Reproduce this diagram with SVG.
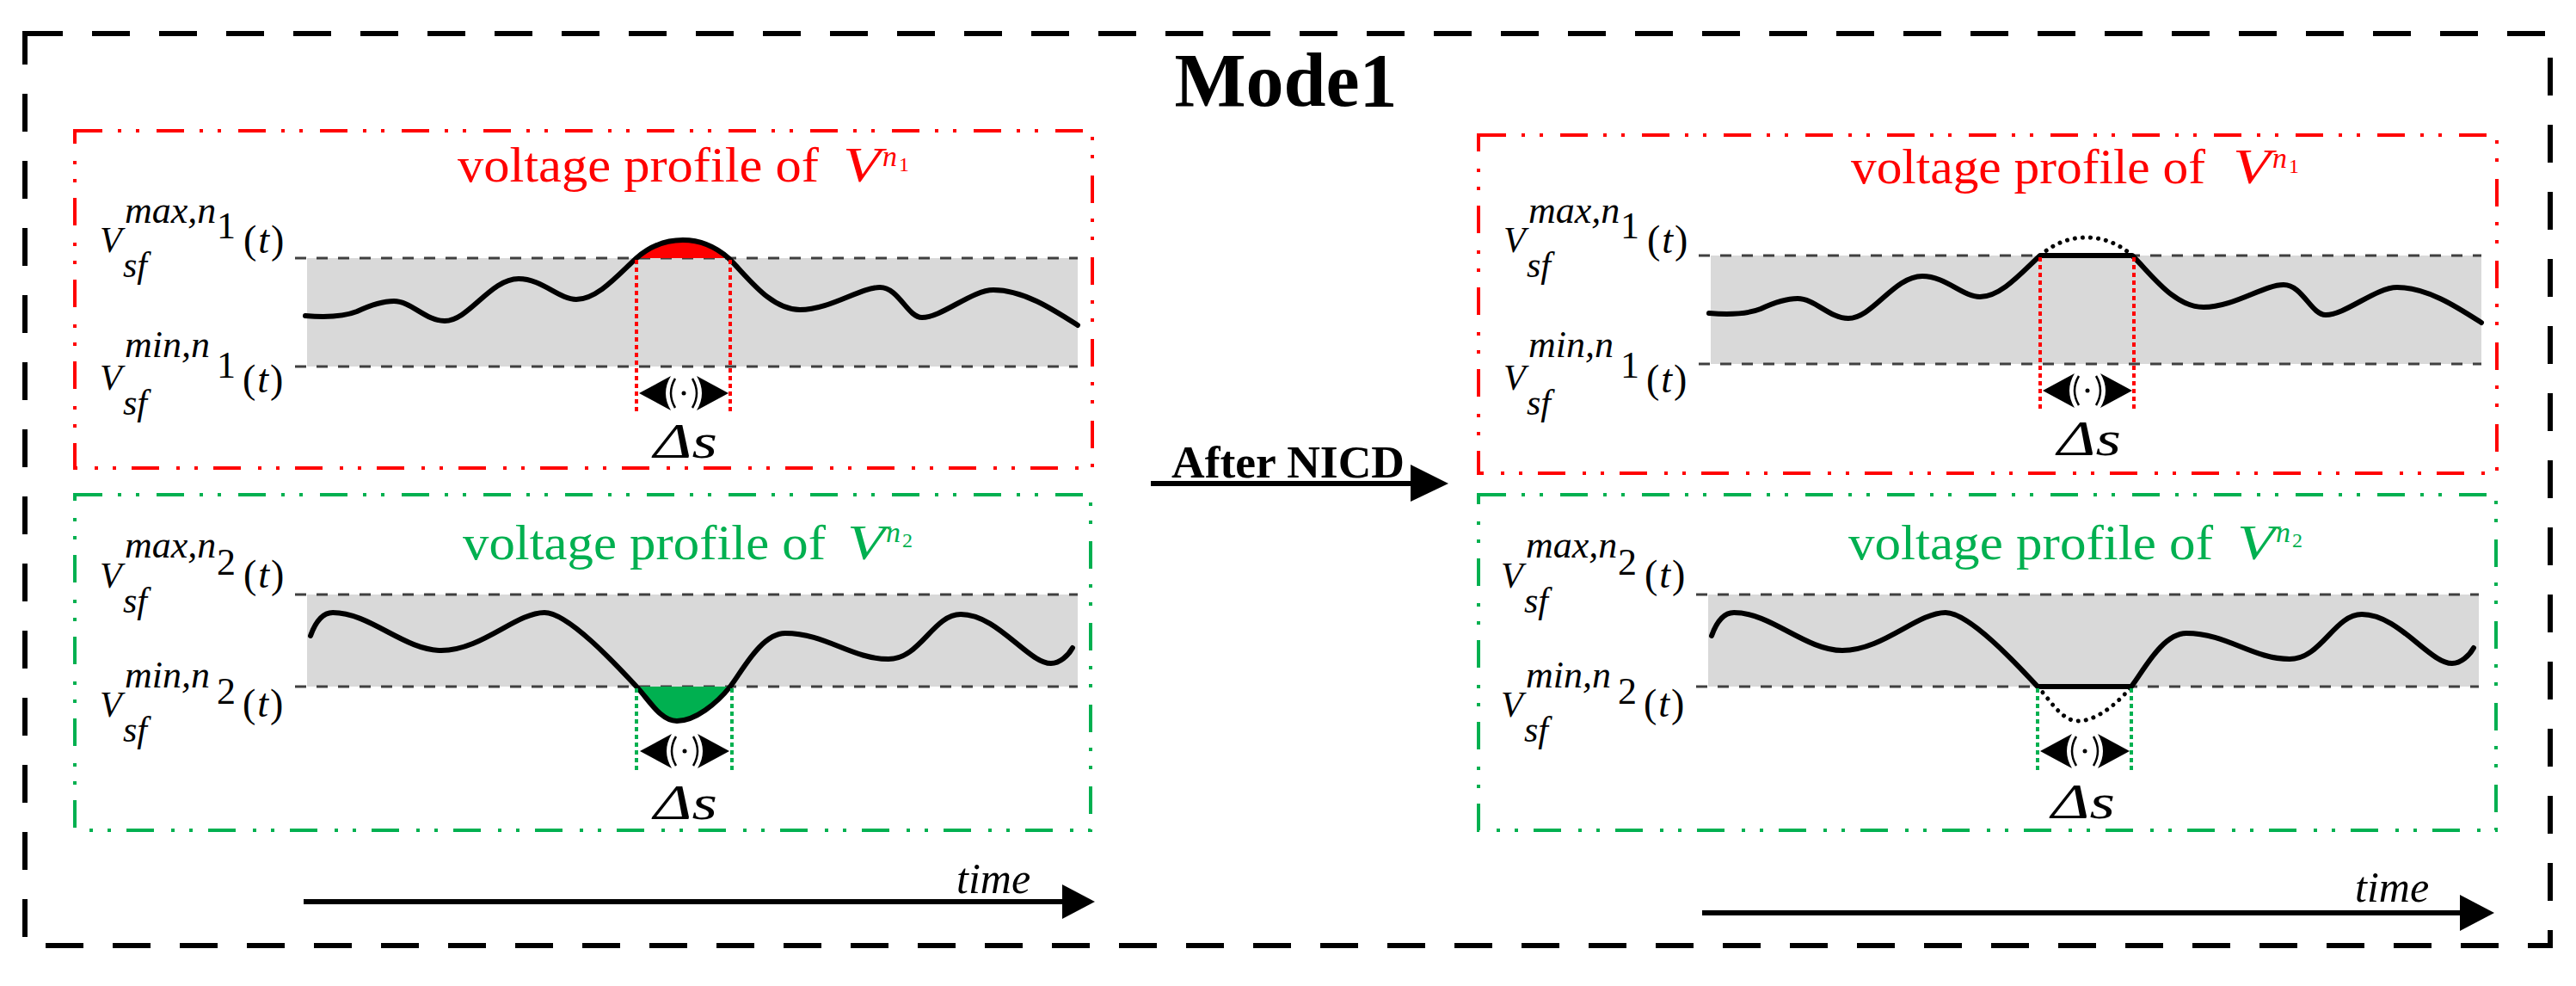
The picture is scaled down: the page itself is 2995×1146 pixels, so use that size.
<svg xmlns="http://www.w3.org/2000/svg" width="2995" height="1146" viewBox="0 0 2995 1146">
<style>
.bg{fill:#fff}
.outer{fill:none;stroke:#000;stroke-width:6;stroke-dasharray:44 34}
.rbox{fill:none;stroke:#FF0000;stroke-width:4;stroke-dasharray:32 18 4 17 4 20}
.gbox{fill:none;stroke:#00B050;stroke-width:4;stroke-dasharray:32 18 4 17 4 20}
.band{fill:#D9D9D9}
.lim{fill:none;stroke:#404040;stroke-width:3;stroke-dasharray:13 12}
.wave{fill:none;stroke:#000;stroke-width:6;stroke-linecap:round;stroke-linejoin:round}
.dotw{fill:none;stroke:#000;stroke-width:5;stroke-linecap:round;stroke-dasharray:0.1 9}
.rdot{stroke:#FF0000;stroke-width:4;stroke-dasharray:5 4}
.gdot{stroke:#00B050;stroke-width:4;stroke-dasharray:5 4}
.ah{fill:#000}
.par{fill:none;stroke:#000;stroke-width:2.5}
.it{font-family:"Liberation Serif",serif;font-style:italic;fill:#000}
.rm{font-family:"Liberation Serif",serif;fill:#000}
.bold{font-family:"Liberation Serif",serif;font-weight:bold;fill:#000}
.red{fill:#FF0000}
.grn{fill:#00B050}
.pt{letter-spacing:2px}
.conn{fill:none;stroke:#000;stroke-width:6}
</style>
<rect class="bg" x="0" y="0" width="2995" height="1146"/>

<g id="mode1-frame">
<rect class="outer" x="29" y="39" width="2936" height="1060"/>
<text class="bold" x="1495" y="123" font-size="88" text-anchor="middle">Mode1</text>
</g>

<!-- LEFT RED PANEL -->
<g id="panel-before-n1">
<rect class="rbox" x="87" y="152" width="1183" height="392"/>
<text class="rm red" x="532" y="211" font-size="58" textLength="420" lengthAdjust="spacingAndGlyphs">voltage profile of</text>
<text class="it red" x="980" y="211" font-size="56" textLength="44" lengthAdjust="spacingAndGlyphs">V</text>
<text class="it red" x="1026" y="193" font-size="34">n</text>
<text class="rm red" x="1045" y="199" font-size="24">1</text>
<rect class="band" x="357" y="300" width="896" height="126"/>
<line class="lim" x1="343" y1="300" x2="1253" y2="300"/>
<line class="lim" x1="343" y1="426" x2="1253" y2="426"/>
<path d="M740,300 C757,285 775,279 794,279 C812,279 830,285 847,300 Z" fill="#FF0000"/>
<path class="wave" d="M355,367 C380,369 400,368 415,362 C430,355 445,350 458,350 C478,350 495,373 517,373 C545,373 570,324 603,324 C630,324 650,348 670,348 C695,348 720,318 740,300 C757,285 775,279 794,279 C812,279 830,285 847,300 C868,320 895,360 930,360 C965,360 1000,334 1023,334 C1045,334 1055,369 1072,369 C1095,369 1130,337 1155,337 C1190,337 1225,360 1253,378"/>
<line class="rdot" x1="740" y1="302" x2="740" y2="478"/>
<line class="rdot" x1="849" y1="302" x2="849" y2="478"/>
<path class="ah" d="M743,457 L780,437 Q768,457 780,477 Z"/>
<path class="par" d="M785,440 Q775,457 785,474"/>
<circle cx="795" cy="457" r="2.5" fill="#000"/>
<path class="par" d="M805,440 Q815,457 805,474"/>
<path class="ah" d="M847,457 L810,437 Q822,457 810,477 Z"/>
<text class="it" x="760" y="532" font-size="58" textLength="74" lengthAdjust="spacingAndGlyphs">Δs</text>
<text class="it" x="116" y="293" font-size="42">V</text>
<text class="it" x="143" y="322" font-size="42">sf</text>
<text class="it" x="145" y="259" font-size="44">max,n</text>
<text class="rm" x="252" y="277" font-size="44">1</text>
<text class="rm pt" x="283" y="294" font-size="46">(<tspan class="it">t</tspan>)</text>
<text class="it" x="116" y="453" font-size="42">V</text>
<text class="it" x="143" y="482" font-size="42">sf</text>
<text class="it" x="145" y="415" font-size="44">min,n</text>
<text class="rm" x="252" y="439" font-size="44">1</text>
<text class="rm pt" x="282" y="456" font-size="46">(<tspan class="it">t</tspan>)</text>
</g>

<!-- LEFT GREEN PANEL -->
<g id="panel-before-n2">
<rect class="gbox" x="87" y="575" width="1181" height="390"/>
<text class="rm grn" x="538" y="650" font-size="58" textLength="422" lengthAdjust="spacingAndGlyphs">voltage profile of</text>
<text class="it grn" x="985" y="650" font-size="56" textLength="44" lengthAdjust="spacingAndGlyphs">V</text>
<text class="it grn" x="1030" y="630" font-size="34">n</text>
<text class="rm grn" x="1049" y="636" font-size="24">2</text>
<rect class="band" x="357" y="691" width="896" height="107"/>
<line class="lim" x1="343" y1="691" x2="1253" y2="691"/>
<line class="lim" x1="343" y1="798" x2="1253" y2="798"/>
<path d="M740,798 C755,814 768,838 787,838 C808,838 833,818 849,798 Z" fill="#00B050"/>
<path class="wave" d="M361,739 C366,725 374,712 387,712 C430,712 470,756 513,756 C560,756 600,712 633,712 C660,712 715,771 740,798 C755,814 768,838 787,838 C808,838 833,818 849,798 C863,780 885,736 913,736 C960,736 990,766 1033,766 C1070,766 1085,714 1117,714 C1160,714 1195,771 1222,771 C1232,771 1242,762 1247,753"/>
<line class="gdot" x1="740" y1="800" x2="740" y2="898"/>
<line class="gdot" x1="851" y1="800" x2="851" y2="898"/>
<path class="ah" d="M744,873 L781,853 Q769,873 781,893 Z"/>
<path class="par" d="M786,856 Q776,873 786,890"/>
<circle cx="796" cy="873" r="2.5" fill="#000"/>
<path class="par" d="M806,856 Q816,873 806,890"/>
<path class="ah" d="M848,873 L811,853 Q823,873 811,893 Z"/>
<text class="it" x="760" y="952" font-size="58" textLength="74" lengthAdjust="spacingAndGlyphs">Δs</text>
<text class="it" x="116" y="683" font-size="42">V</text>
<text class="it" x="143" y="712" font-size="42">sf</text>
<text class="it" x="145" y="648" font-size="44">max,n</text>
<text class="rm" x="252" y="668" font-size="44">2</text>
<text class="rm pt" x="283" y="683" font-size="46">(<tspan class="it">t</tspan>)</text>
<text class="it" x="116" y="833" font-size="42">V</text>
<text class="it" x="143" y="862" font-size="42">sf</text>
<text class="it" x="145" y="799" font-size="44">min,n</text>
<text class="rm" x="252" y="818" font-size="44">2</text>
<text class="rm pt" x="282" y="833" font-size="46">(<tspan class="it">t</tspan>)</text>
</g>

<!-- RIGHT RED PANEL -->
<g id="panel-after-n1">
<rect class="rbox" x="1719" y="157" width="1184" height="393"/>
<text class="rm red" x="2152" y="213" font-size="58" textLength="412" lengthAdjust="spacingAndGlyphs">voltage profile of</text>
<text class="it red" x="2596" y="213" font-size="56" textLength="44" lengthAdjust="spacingAndGlyphs">V</text>
<text class="it red" x="2642" y="195" font-size="34">n</text>
<text class="rm red" x="2661" y="201" font-size="24">1</text>
<g transform="translate(1632,-3)">
<rect class="band" x="357" y="300" width="896" height="126"/>
<line class="lim" x1="343" y1="300" x2="1253" y2="300"/>
<line class="lim" x1="343" y1="426" x2="1253" y2="426"/>
<path class="wave" d="M355,367 C380,369 400,368 415,362 C430,355 445,350 458,350 C478,350 495,373 517,373 C545,373 570,324 603,324 C630,324 650,348 670,348 C695,348 720,318 740,300 L847,300 C868,320 895,360 930,360 C965,360 1000,334 1023,334 C1045,334 1055,369 1072,369 C1095,369 1130,337 1155,337 C1190,337 1225,360 1253,378"/>
<path class="dotw" d="M740,300 C757,285 775,279 794,279 C812,279 830,285 847,300"/>
<line class="rdot" x1="740" y1="302" x2="740" y2="478"/>
<line class="rdot" x1="849" y1="302" x2="849" y2="478"/>
<path class="ah" d="M743,457 L780,437 Q768,457 780,477 Z"/>
<path class="par" d="M785,440 Q775,457 785,474"/>
<circle cx="795" cy="457" r="2.5" fill="#000"/>
<path class="par" d="M805,440 Q815,457 805,474"/>
<path class="ah" d="M847,457 L810,437 Q822,457 810,477 Z"/>
<text class="it" x="760" y="532" font-size="58" textLength="74" lengthAdjust="spacingAndGlyphs">Δs</text>
<text class="it" x="116" y="296" font-size="42">V</text>
<text class="it" x="143" y="325" font-size="42">sf</text>
<text class="it" x="145" y="262" font-size="44">max,n</text>
<text class="rm" x="252" y="280" font-size="44">1</text>
<text class="rm pt" x="283" y="297" font-size="46">(<tspan class="it">t</tspan>)</text>
<text class="it" x="116" y="456" font-size="42">V</text>
<text class="it" x="143" y="485" font-size="42">sf</text>
<text class="it" x="145" y="418" font-size="44">min,n</text>
<text class="rm" x="252" y="442" font-size="44">1</text>
<text class="rm pt" x="282" y="459" font-size="46">(<tspan class="it">t</tspan>)</text>
</g>
</g>

<!-- RIGHT GREEN PANEL -->
<g id="panel-after-n2">
<rect class="gbox" x="1719" y="575" width="1183" height="390"/>
<text class="rm grn" x="2149" y="650" font-size="58" textLength="424" lengthAdjust="spacingAndGlyphs">voltage profile of</text>
<text class="it grn" x="2601" y="650" font-size="56" textLength="44" lengthAdjust="spacingAndGlyphs">V</text>
<text class="it grn" x="2646" y="630" font-size="34">n</text>
<text class="rm grn" x="2665" y="636" font-size="24">2</text>
<g transform="translate(1629,0)">
<rect class="band" x="357" y="691" width="896" height="107"/>
<line class="lim" x1="343" y1="691" x2="1253" y2="691"/>
<line class="lim" x1="343" y1="798" x2="1253" y2="798"/>
<path class="wave" d="M361,739 C366,725 374,712 387,712 C430,712 470,756 513,756 C560,756 600,712 633,712 C660,712 715,771 740,798 L849,798 C863,780 885,736 913,736 C960,736 990,766 1033,766 C1070,766 1085,714 1117,714 C1160,714 1195,771 1222,771 C1232,771 1242,762 1247,753"/>
<path class="dotw" d="M740,798 C755,814 768,838 787,838 C808,838 833,818 849,798"/>
<line class="gdot" x1="740" y1="800" x2="740" y2="898"/>
<line class="gdot" x1="849" y1="800" x2="849" y2="898"/>
<path class="ah" d="M743,873 L780,853 Q768,873 780,893 Z"/>
<path class="par" d="M785,856 Q775,873 785,890"/>
<circle cx="795" cy="873" r="2.5" fill="#000"/>
<path class="par" d="M805,856 Q815,873 805,890"/>
<path class="ah" d="M847,873 L810,853 Q822,873 810,893 Z"/>
<text class="it" x="756" y="951" font-size="58" textLength="74" lengthAdjust="spacingAndGlyphs">Δs</text>
<text class="it" x="116" y="683" font-size="42">V</text>
<text class="it" x="143" y="712" font-size="42">sf</text>
<text class="it" x="145" y="648" font-size="44">max,n</text>
<text class="rm" x="252" y="668" font-size="44">2</text>
<text class="rm pt" x="283" y="683" font-size="46">(<tspan class="it">t</tspan>)</text>
<text class="it" x="116" y="833" font-size="42">V</text>
<text class="it" x="143" y="862" font-size="42">sf</text>
<text class="it" x="145" y="799" font-size="44">min,n</text>
<text class="rm" x="252" y="818" font-size="44">2</text>
<text class="rm pt" x="282" y="833" font-size="46">(<tspan class="it">t</tspan>)</text>
</g>
</g>

<!-- CONNECTORS -->
<g id="connectors">
<line class="conn" x1="1338" y1="562" x2="1645" y2="562"/>
<path class="ah" d="M1640,540 L1684,562 L1640,583 Z"/>
<text class="bold" x="1362" y="555" font-size="52" textLength="271" lengthAdjust="spacingAndGlyphs">After NICD</text>
<line class="conn" x1="353" y1="1048" x2="1240" y2="1048"/>
<path class="ah" d="M1235,1028 L1273,1048 L1235,1068 Z"/>
<text class="it" x="1112" y="1038" font-size="50">time</text>
<line class="conn" x1="1979" y1="1061" x2="2865" y2="1061"/>
<path class="ah" d="M2860,1040 L2900,1061 L2860,1082 Z"/>
<text class="it" x="2738" y="1048" font-size="50">time</text>
</g>
</svg>
